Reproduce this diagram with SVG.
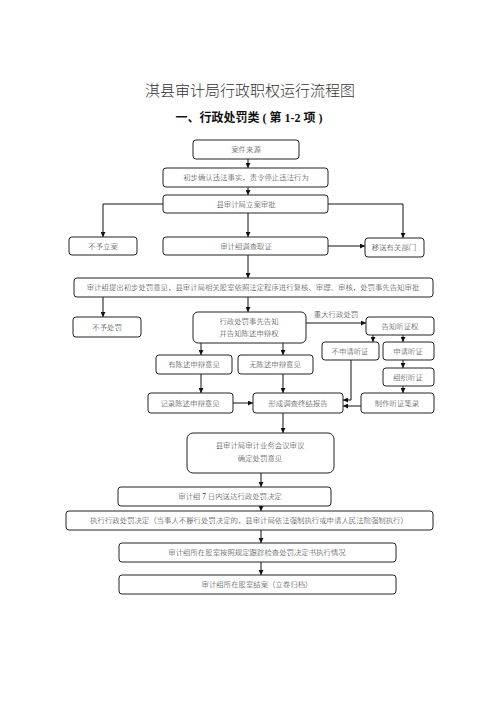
<svg xmlns="http://www.w3.org/2000/svg" width="496" height="702" viewBox="0 0 496 702">
<defs>
<marker id="ah" viewBox="0 0 10 10" refX="10" refY="5" markerWidth="5" markerHeight="5" orient="auto" markerUnits="userSpaceOnUse">
<path d="M0,0 L10,5 L0,10 z" fill="#111"/>
</marker>
</defs>
<style>
rect.b{fill:#fff;stroke:#222;stroke-width:1;}
text.t{font-family:"Liberation Serif","Noto Sans CJK SC",serif;font-size:7.4px;font-weight:300;fill:#333;text-anchor:middle;}
.c path{fill:none;stroke:#111;stroke-width:1;marker-end:url(#ah);}
</style>
<rect width="496" height="702" fill="#fff"/>
<text x="250" y="96" style="font-family:'Liberation Serif','Noto Sans CJK SC',serif;font-size:15px;font-weight:300;fill:#333;text-anchor:middle;">淇县审计局行政职权运行流程图</text>
<text x="249" y="122" style="font-family:'Liberation Serif','Noto Sans CJK SC',serif;font-size:12px;font-weight:bold;fill:#111;text-anchor:middle;">一、行政处罚类 ( 第 1-2 项 )</text>

<g class="c" id="connectors">
<path d="M248,159 V168"/>
<path d="M248,187 V195"/>
<path d="M163,204 H103 V237"/>
<path d="M328,204 H403 V238"/>
<path d="M248,213 V237"/>
<path d="M328,246 H365"/>
<path d="M248,255 V278"/>
<path d="M103,297 V317"/>
<path d="M248,297 V312"/>
<path d="M306,323 H366"/>
<path d="M373,335 V342"/>
<path d="M403,335 V342"/>
<path d="M201,343 V355"/>
<path d="M283,343 V355"/>
<path d="M403,360 V368"/>
<path d="M201,374 V393"/>
<path d="M283,374 V393"/>
<path d="M403,386 V393"/>
<path d="M233,403 H253"/>
<path d="M351,360 V400 H343"/>
<path d="M361,406 H343"/>
<path d="M283,413 V433"/>
<path d="M261,473 V487"/>
<path d="M261,506 V511"/>
<path d="M261,530 V543"/>
<path d="M261,562 V575"/>
</g>
<text class="t" x="336" y="317">重大行政处罚</text>

<g id="n1"><rect class="b" x="193" y="140" width="106" height="19" rx="3"/><text class="t" x="246" y="152">案件来源</text></g>
<g id="n2"><rect class="b" x="163" y="168" width="165" height="19" rx="3"/><text class="t" x="246" y="180">初步确认违法事实，责令停止违法行为</text></g>
<g id="n3"><rect class="b" x="163" y="195" width="165" height="18" rx="3"/><text class="t" x="246" y="207">县审计局立案审批</text></g>
<g id="n4"><rect class="b" x="69" y="237" width="68" height="18" rx="3"/><text class="t" x="103" y="249">不予立案</text></g>
<g id="n5"><rect class="b" x="163" y="237" width="165" height="18" rx="3"/><text class="t" x="246" y="249">审计组调查取证</text></g>
<g id="n6"><rect class="b" x="365" y="238" width="59" height="19" rx="3"/><text class="t" x="394" y="250">移送有关部门</text></g>
<g id="n7"><rect class="b" x="74" y="278" width="359" height="19" rx="3"/><text class="t" x="253" y="290">审计组提出初步处罚意见，县审计局相关股室依照法定程序进行复核、审理、审核，处罚事先告知审批</text></g>
<g id="n8"><rect class="b" x="73" y="317" width="68" height="20" rx="3"/><text class="t" x="107" y="330">不予处罚</text></g>
<g id="n9"><rect class="b" x="193" y="312" width="113" height="31" rx="5"/><text class="t" x="249" y="324">行政处罚事先告知</text><text class="t" x="249" y="336">并告知陈述申辩权</text></g>
<g id="n10"><rect class="b" x="366" y="317" width="68" height="18" rx="3"/><text class="t" x="400" y="329">告知听证权</text></g>
<g id="n11"><rect class="b" x="322" y="342" width="57" height="18" rx="3"/><text class="t" x="350" y="354">不申请听证</text></g>
<g id="n12"><rect class="b" x="383" y="342" width="51" height="18" rx="3"/><text class="t" x="408" y="354">申请听证</text></g>
<g id="n13"><rect class="b" x="156" y="355" width="76" height="19" rx="3"/><text class="t" x="194" y="367">有陈述申辩意见</text></g>
<g id="n14"><rect class="b" x="238" y="355" width="75" height="19" rx="3"/><text class="t" x="275" y="367">无陈述申辩意见</text></g>
<g id="n15"><rect class="b" x="383" y="368" width="51" height="18" rx="3"/><text class="t" x="408" y="380">组织听证</text></g>
<g id="n16"><rect class="b" x="148" y="393" width="85" height="20" rx="3"/><text class="t" x="190" y="406">记录陈述申辩意见</text></g>
<g id="n17"><rect class="b" x="253" y="393" width="90" height="20" rx="3"/><text class="t" x="298" y="406">形成调查终结报告</text></g>
<g id="n18"><rect class="b" x="361" y="393" width="73" height="20" rx="3"/><text class="t" x="397" y="406">制作听证笔录</text></g>
<g id="n19"><rect class="b" x="187" y="433" width="147" height="40" rx="6"/><text class="t" x="260" y="448">县审计局审计业务会议审议</text><text class="t" x="260" y="461">确定处罚意见</text></g>
<g id="n20"><rect class="b" x="118" y="487" width="213" height="19" rx="3"/><text class="t" x="230" y="499">审计组 7 日内送达行政处罚决定</text></g>
<g id="n21"><rect class="b" x="66" y="511" width="367" height="19" rx="3"/><text class="t" x="249" y="523">执行行政处罚决定（当事人不履行处罚决定的，县审计局依法强制执行或申请人民法院强制执行）</text></g>
<g id="n22"><rect class="b" x="119" y="543" width="277" height="19" rx="3"/><text class="t" x="257" y="555">审计组所在股室按照规定跟踪检查处罚决定书执行情况</text></g>
<g id="n23"><rect class="b" x="119" y="575" width="277" height="19" rx="3"/><text class="t" x="257" y="587">审计组所在股室结案（立卷归档）</text></g>
</svg>
